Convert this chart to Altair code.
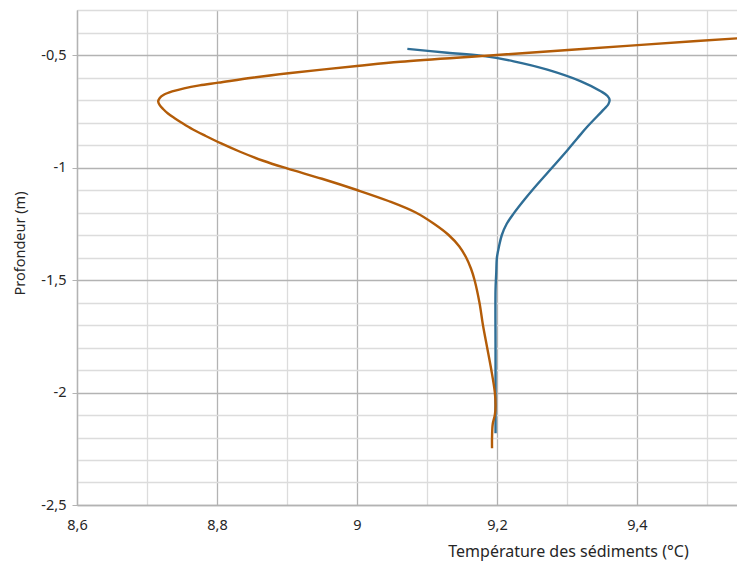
import altair as alt
import pandas as pd

# Blue profile (temperature °C, depth m)
blue_T = [9.072, 9.129, 9.177, 9.224, 9.272, 9.320, 9.349, 9.358, 9.361, 9.359, 9.352,
          9.329, 9.315, 9.301, 9.279, 9.259, 9.240, 9.224, 9.214, 9.207, 9.203, 9.200,
          9.199, 9.198, 9.198, 9.198, 9.198]
blue_d = [-0.473, -0.490, -0.503, -0.528, -0.565, -0.617, -0.662, -0.682, -0.700, -0.720, -0.744,
          -0.819, -0.870, -0.922, -1.000, -1.070, -1.140, -1.204, -1.250, -1.300, -1.350, -1.400,
          -1.470, -1.544, -1.811, -2.033, -2.181]

# Orange profile
orange_T = [9.700, 9.543, 9.401, 9.200, 9.062, 9.000, 8.902, 8.850, 8.802, 8.775, 8.753,
            8.736, 8.724, 8.718, 8.716, 8.718, 8.723, 8.730, 8.739, 8.749, 8.765, 8.784,
            8.806, 8.833, 8.866, 8.900, 8.950, 9.000, 9.046, 9.084, 9.110, 9.131, 9.146,
            9.156, 9.163, 9.168, 9.175, 9.180, 9.186, 9.192, 9.197, 9.198, 9.197, 9.194,
            9.193, 9.193]
orange_d = [-0.393, -0.426, -0.456, -0.500, -0.530, -0.549, -0.581, -0.601, -0.623, -0.635, -0.648,
            -0.662, -0.677, -0.692, -0.707, -0.722, -0.740, -0.760, -0.780, -0.800, -0.830, -0.860,
            -0.893, -0.930, -0.970, -1.004, -1.050, -1.100, -1.150, -1.200, -1.250, -1.300, -1.350,
            -1.400, -1.450, -1.500, -1.600, -1.700, -1.800, -1.900, -2.000, -2.060, -2.100, -2.140,
            -2.200, -2.248]

x_ticks = [8.6, 8.7, 8.8, 8.9, 9.0, 9.1, 9.2, 9.3, 9.4, 9.5]
y_ticks = [round(-2.5 + 0.1 * i, 1) for i in range(23)]

rows = []
for i, (t, d) in enumerate(zip(blue_T, blue_d)):
    rows.append({"serie": "bleu", "T": t, "d": d, "i": i})
for i, (t, d) in enumerate(zip(orange_T, orange_d)):
    rows.append({"serie": "orange", "T": t, "d": d, "i": i})
df = pd.DataFrame(rows)

FONT = "Noto Sans"
MAJOR = "#b3b3b3"
MINOR = "#dcdcdc"
TXT = "#262626"

x_axis = alt.Axis(
    values=x_ticks,
    labelExpr="round(datum.value*10)%2==0 ? replace(replace(format(datum.value,'.2~f'),'.',','),'\u2212','-') : ''",
    gridColor={"condition": {"test": "round(datum.value*10)%2==0", "value": MAJOR}, "value": MINOR},
    gridWidth=1.3,
    ticks=False,
    domainColor=MAJOR,
    domainWidth=1.3,
    labelFont=FONT, labelFontSize=14.5, labelColor=TXT, labelPadding=13,
    labelFlush=False, labelOverlap=False,
    title="Température des sédiments (°C)",
    titleFont=FONT, titleFontSize=16, titleFontWeight="normal", titleColor=TXT,
    titleX=491, titleY=38, titleBaseline="top", titleAlign="center", titleAnchor="start",
)
y_axis = alt.Axis(
    values=y_ticks,
    labelExpr="abs(round(datum.value*10))%5==0 ? replace(replace(format(datum.value,'.2~f'),'.',','),'\u2212','-') : ''",
    gridColor={"condition": {"test": "abs(round(datum.value*10))%5==0", "value": MAJOR}, "value": MINOR},
    gridWidth=1.3,
    tickColor={"condition": {"test": "abs(round(datum.value*10))%5==0", "value": MAJOR}, "value": "transparent"},
    tickSize=5,
    domainColor=MAJOR,
    domainWidth=1.3,
    labelFont=FONT, labelFontSize=14.5, labelColor=TXT, labelPadding=6,
    labelFlush=False, labelOverlap=False,
    title="Profondeur (m)",
    titleFont=FONT, titleFontSize=14.5, titleFontWeight="normal", titleColor=TXT,
    titleX=-57, titleY=233, titleAlign="center", titleAnchor="start", titleBaseline="middle",
)

chart = alt.Chart(df).mark_line(strokeWidth=2.4, clip=True, interpolate="catmull-rom").encode(
    x=alt.X("T:Q", scale=alt.Scale(domain=[8.6, 9.543], nice=False, zero=False), axis=x_axis),
    y=alt.Y("d:Q", scale=alt.Scale(domain=[-2.5, -0.3], nice=False, zero=False), axis=y_axis),
    color=alt.Color("serie:N", scale=alt.Scale(domain=["bleu", "orange"], range=["#2f6e96", "#b35c08"]), legend=None),
    order="i:Q",
    detail="serie:N",
).properties(
    width=660,
    height=495,
    autosize=alt.AutoSizeParams(type="none"),
    padding={"left": 77, "top": 10, "right": 0, "bottom": 57},
).configure_view(stroke=None).configure(background="white")

chart.save("out.html", embed_options={"renderer": "svg", "actions": False})
